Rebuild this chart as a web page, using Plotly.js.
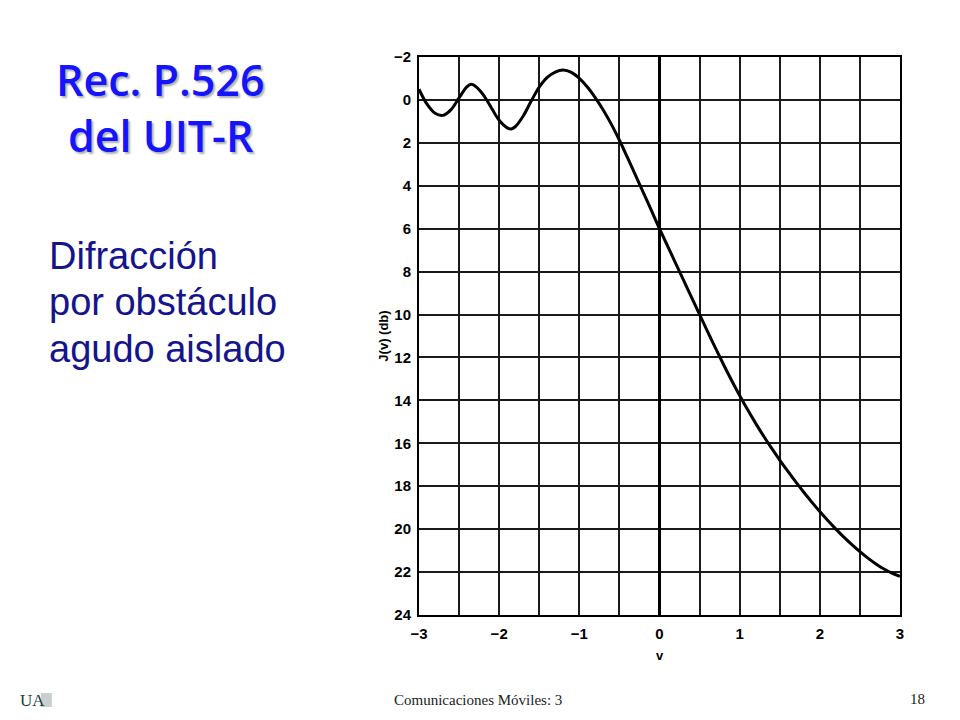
<!DOCTYPE html>
<html>
<head>
<meta charset="utf-8">
<script src="https://cdn.plot.ly/plotly-3.0.1.min.js"></script>
<style>
html,body{margin:0;padding:0;background:#fff;}
#chart{width:960px;height:720px;}
</style>
</head>
<body>
<div id="chart"></div>
<script>
// Parameter v of the knife-edge
const vValues = [-3.0,-2.9,-2.8,-2.7,-2.6,-2.5,-2.4,-2.35,-2.3,-2.2,-2.1,-2.0,-1.9,-1.85,-1.8,-1.7,-1.6,-1.5,-1.4,-1.3,-1.2,-1.1,-1.0,-0.9,-0.8,-0.7,-0.6,-0.5,-0.4,-0.3,-0.2,-0.1,0.0,0.1,0.2,0.3,0.4,0.5,0.6,0.7,0.8,0.9,1.0,1.1,1.2,1.3,1.4,1.5,1.6,1.7,1.8,1.9,2.0,2.1,2.2,2.3,2.4,2.5,2.6,2.7,2.8,2.9,3.0];
// Diffraction loss J(v) in dB
const jValues = [-0.5,0.2,0.62,0.72,0.45,-0.1,-0.62,-0.73,-0.65,-0.25,0.35,0.95,1.3,1.35,1.25,0.75,0.05,-0.6,-1.05,-1.3,-1.39,-1.28,-1.0,-0.6,-0.1,0.48,1.14,1.88,2.68,3.5,4.33,5.16,6.0,6.8,7.6,8.4,9.2,10.0,10.8,11.58,12.34,13.07,13.77,14.44,15.07,15.67,16.24,16.78,17.3,17.8,18.28,18.74,19.18,19.6,20.0,20.37,20.72,21.05,21.35,21.62,21.86,22.05,22.2];
const xTicks = [-3,-2,-1,0,1,2,3];
const yTicks = [-2,0,2,4,6,8,10,12,14,16,18,20,22,24];

const L = 418.5, R = 900, T = 57, B = 615, W = 960, H = 720;
const px = x => (x - L) / (R - L);
const py = y => (B - y) / (B - T);

const blueTitle = {family: '"Open Sans", "Noto Sans", sans-serif', size: 43, color: '#1414ff', weight: 600, shadow: '2px 2px 2px #b0b0b0'};
const bodyFont = {family: '"Liberation Sans", Arial, sans-serif', size: 38, color: '#14148c'};

const annotations = [
  {text: 'Rec. P.526', x: px(160), y: py(79), font: blueTitle},
  {text: 'del UIT-R', x: px(160), y: py(135), font: blueTitle},
  {text: 'Difracción', x: px(46), y: py(256), xanchor: 'left', font: bodyFont},
  {text: 'por obstáculo', x: px(46), y: py(302), xanchor: 'left', font: bodyFont},
  {text: 'agudo aislado', x: px(46), y: py(349), xanchor: 'left', font: bodyFont},
  {text: 'Comunicaciones Móviles: 3', x: px(478), y: py(700), font: {family: '"Liberation Serif", "Times New Roman", serif', size: 15, color: '#222'}},
  {text: '18', x: px(918), y: py(699), font: {family: '"Liberation Serif", "Times New Roman", serif', size: 15, color: '#222'}},
  {text: 'UA', x: px(17), y: py(700), xanchor: 'left', font: {family: '"Liberation Serif", serif', size: 17, color: '#1d3b3b'}}
].map(a => Object.assign({xref: 'paper', yref: 'paper', showarrow: false, xanchor: 'center', yanchor: 'middle'}, a));

const shapes = [
  {type: 'rect', xref: 'paper', yref: 'paper', x0: px(40), x1: px(51), y0: py(707), y1: py(693), fillcolor: '#c9cfcf', line: {width: 0}}
];

const tickFont = {family: '"Liberation Sans", Arial, sans-serif', size: 15, color: '#000', weight: 'bold'};
const gridCol = '#1a1a1a';

const data = [{
  x: vValues, y: jValues, type: 'scatter', mode: 'lines',
  line: {color: '#000', width: 3, shape: 'spline', smoothing: 1},
  hoverinfo: 'skip'
}];

const layout = {
  width: W, height: H,
  margin: {l: L, r: W - R, t: T, b: H - B, pad: 0},
  paper_bgcolor: '#fff', plot_bgcolor: '#fff',
  showlegend: false,
  xaxis: {
    range: [-3, 3], tickvals: xTicks, ticktext: xTicks.map(t => t < 0 ? '\u2212' + Math.abs(t) : String(t)),
    showgrid: true, gridcolor: gridCol, gridwidth: 2,
    minor: {dtick: 0.5, showgrid: true, gridcolor: gridCol, gridwidth: 2},
    zeroline: true, zerolinecolor: '#000', zerolinewidth: 3,
    showline: true, linecolor: '#000', linewidth: 2, mirror: true,
    ticks: '', tickfont: tickFont, ticklabelstandoff: 4,
    title: {text: 'v', font: {family: '"Liberation Sans", Arial, sans-serif', size: 13, color: '#000', weight: 'bold'}, standoff: 10}
  },
  yaxis: {
    range: [24, -2], tickvals: yTicks, ticktext: yTicks.map(t => t < 0 ? '\u2212' + Math.abs(t) : String(t)),
    showgrid: true, gridcolor: gridCol, gridwidth: 2,
    zeroline: false,
    showline: true, linecolor: '#000', linewidth: 2, mirror: true,
    ticks: '', tickfont: tickFont, ticklabelstandoff: 3,
    title: {text: 'J(v) (db)', font: {family: '"Liberation Sans", Arial, sans-serif', size: 13, color: '#000', weight: 'bold'}, standoff: 2}
  },
  annotations: annotations,
  shapes: shapes
};

Plotly.newPlot('chart', data, layout, {displayModeBar: false, staticPlot: true});
</script>
</body>
</html>
